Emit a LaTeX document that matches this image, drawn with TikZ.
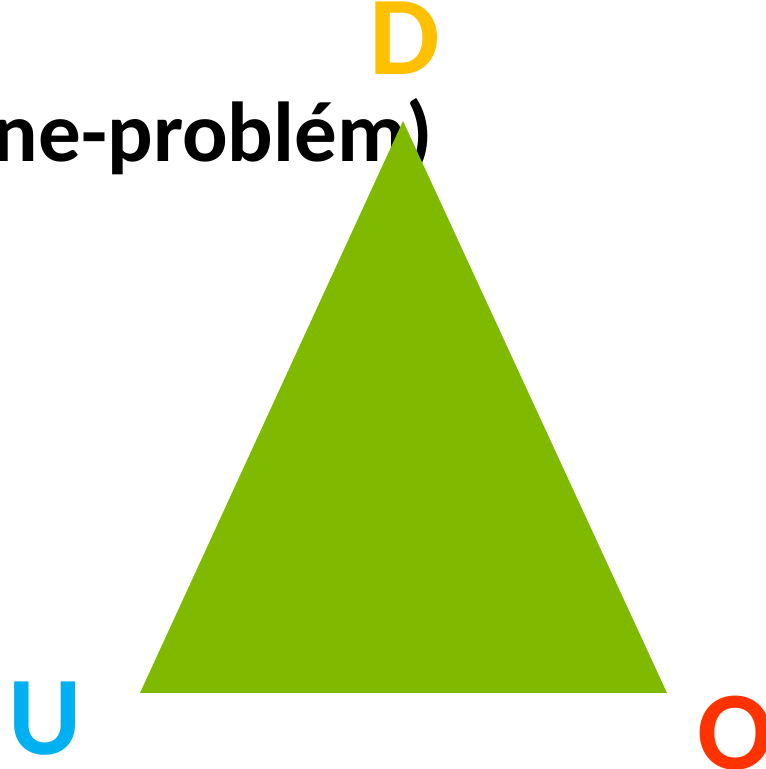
\documentclass[tikz,border=0pt]{standalone}
\usepackage{fontspec}
\setmainfont{Carlito}
\usepackage{tikz}

\definecolor{TriGreen}{RGB}{127,185,0}
\definecolor{CornerD}{RGB}{255,192,0}
\definecolor{CornerU}{RGB}{0,176,240}
\definecolor{CornerO}{RGB}{255,51,0}

\begin{document}
\begin{tikzpicture}[
			x=1pt,
			y=1pt,
			line join=miter,
			corner/.style={inner sep=0pt,anchor=base,font=\fontsize{112}{112}\selectfont\bfseries}
			]
			
			\useasboundingbox (0,0) rectangle (766,769);
			
			% Title (cut off)
			\node[inner sep=0pt,anchor=base east,font=\fontsize{85}{85}\selectfont\bfseries]
				(title) at (433,607) {ne-problém)};
			
			% Triangle
			\coordinate (apex) at (403,648);
			\coordinate (left) at (140,76);
			\coordinate (right) at (667,76);
			\fill[TriGreen] (apex) -- (left) -- (right) -- cycle;
			
			% Corners
			\node[corner,text=CornerD] (D) at (405,694) {D};
			\node[corner,text=CornerU] (U) at (45,14) {U};
			\node[corner,text=CornerO,anchor=base west] (O) at (697,-1) {O};
			
		\end{tikzpicture}
\end{document}
